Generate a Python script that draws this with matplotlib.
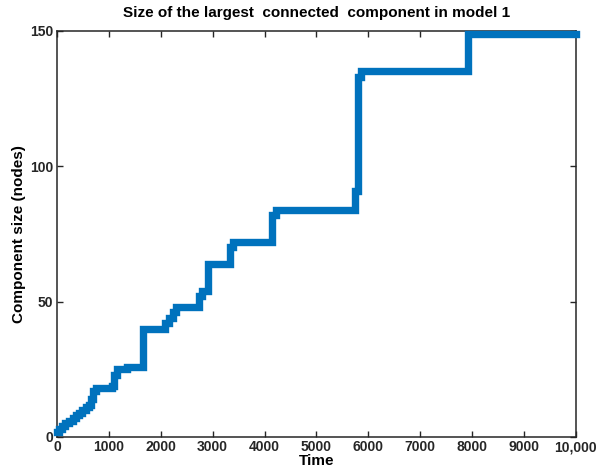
import matplotlib
matplotlib.use("Agg")
import matplotlib.pyplot as plt

# step times and component sizes
step_time = [0, 40, 100, 150, 230, 300, 360, 420, 480, 560, 620, 660, 700, 760,
             1060, 1100, 1150, 1350, 1650, 2080, 2150, 2240, 2300, 2740, 2790,
             2920, 3340, 3400, 4140, 4230, 5740, 5810, 5860, 7930, 10000]
comp_size = [2, 3, 4, 5, 6, 7, 8, 9, 10, 11, 12, 14, 17, 18,
             19, 23, 25, 26, 40, 42, 44, 46, 48, 52, 54,
             64, 70, 72, 82, 84, 91, 133, 135, 149, 149]

xticks = [0, 1000, 2000, 3000, 4000, 5000, 6000, 7000, 8000, 9000, 10000]
xtick_labels = ['0', '1000', '2000', '3000', '4000', '5000', '6000', '7000',
                '8000', '9000', '10,000']
yticks = [0, 50, 100, 150]

plt.rcParams['font.family'] = ['Liberation Sans', 'DejaVu Sans']
plt.rcParams['font.weight'] = 'bold'

fig = plt.figure(figsize=(6.03, 4.75), dpi=100)
ax = fig.add_axes([0.0945, 0.08, 0.8605, 0.855])

ax.step(step_time, comp_size, where='post', color='#0072BD', linewidth=5.3,
        solid_joinstyle='miter', clip_on=False, zorder=3)

ax.set_xlim(0, 10000)
ax.set_ylim(0, 150)
ax.set_xticks(xticks)
ax.set_xticklabels(xtick_labels)
ax.set_yticks(yticks)
ax.tick_params(direction='in', top=True, right=True, length=4, width=1,
               labelsize=10, colors='#262626', pad=2.5)
for s in ax.spines.values():
    s.set_linewidth(1.1)
    s.set_color('#262626')

ax.set_title('Size of the largest  connected  component in model 1',
             fontsize=11, fontweight='bold', pad=10)
ax.set_xlabel('Time', fontsize=11, fontweight='bold', labelpad=0)
ax.set_ylabel('Component size (nodes)', fontsize=11, fontweight='bold', labelpad=3)

fig.savefig('out.png', dpi=100)
